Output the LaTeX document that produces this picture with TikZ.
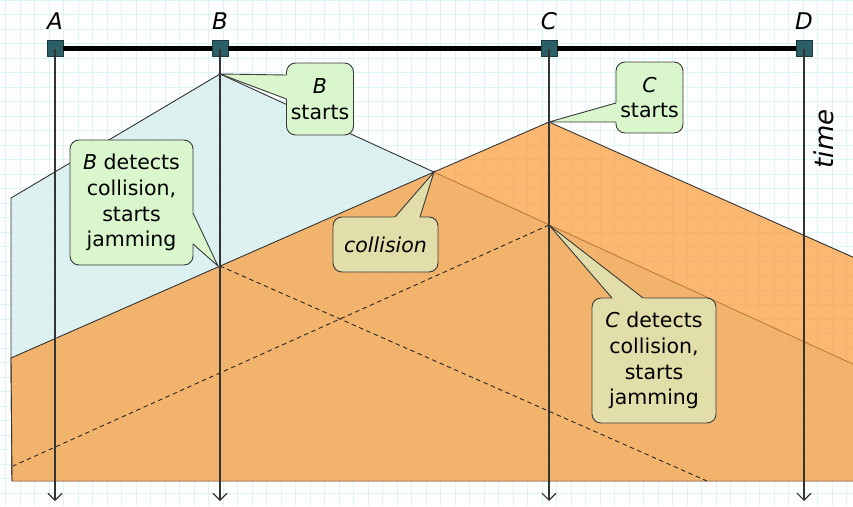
\documentclass[tikz,border=0pt]{standalone}
\usepackage{fontspec}
\setmainfont{DejaVu Sans}
\usetikzlibrary{calc,arrows.meta}
\definecolor{gridc}{HTML}{DCF4F7}
\definecolor{blueR}{HTML}{D6EEEE}
\definecolor{orangeR}{HTML}{FB9A36}
\definecolor{edgec}{HTML}{333333}
\definecolor{boxline}{HTML}{3A3A3A}
\definecolor{greenF}{HTML}{D9F6CD}
\definecolor{khakiF}{HTML}{E1DEA9}
\definecolor{stationF}{HTML}{2B6067}
\definecolor{stationD}{HTML}{173A3F}
\tikzset{
  cbox/.style={draw=boxline, line width=0.9pt, rounded corners=9pt, inner sep=0pt,
    align=center, font=\fontsize{20.5}{25.7}\selectfont},
  greenbox/.style={cbox, fill=greenF},
  khakibox/.style={cbox, fill=khakiF},
  station/.style={draw=stationD, fill=stationF, line width=0.8pt, minimum size=16pt, inner sep=0pt},
  stlabel/.style={font=\fontsize{23}{23}\selectfont\itshape, inner sep=0pt},
  timeline/.style={draw=edgec, line width=1.1pt, -{Straight Barb[length=7pt,width=14pt]}},
  jamline/.style={draw=black!85, line width=0.9pt, dash pattern=on 4.5pt off 3.5pt},
  sigedge/.style={draw=edgec, line width=0.9pt, line join=round},
}
\newcommand\pointer[4]{% fill, base1, tip, base2
  \fill[#1] ($(#2)!-1.5pt!(#3)$) -- (#3) -- ($(#4)!-1.5pt!(#3)$) -- cycle;
  \draw[boxline, line width=0.9pt, line join=miter] (#2) -- (#3) -- (#4);
}
\begin{document}
\begin{tikzpicture}[x=1pt,y=-1pt]
\useasboundingbox (0,0) rectangle (853,506);
\fill[white] (0,0) rectangle (853,506);
% grid
\foreach \i in {0,...,58} \draw[gridc, line width=0.6pt] ({5.7+14.5*\i},0) -- ({5.7+14.5*\i},506);
\foreach \j in {0,...,35} \draw[gridc, line width=0.6pt] (0,{0.2+14.5*\j}) -- (853,{0.2+14.5*\j});

% key points
\coordinate (Bs) at (220,74);
\coordinate (Cs) at (549,122);
\coordinate (X) at (434,172);
\coordinate (Bj) at (220,266);
\coordinate (Cj) at (549,225);
\coordinate (BL) at (11,198);
\coordinate (OL) at (11,358);
\coordinate (LB) at (12,481);
\coordinate (RB) at (856,481);
\coordinate (BR) at (856,365.5);
\coordinate (OR) at (856,258.5);
\coordinate (Bjend) at (707,481);
\coordinate (Cjend) at (13,466);

% B's signal (blue)
\fill[blueR, fill opacity=0.8] (Bs) -- (BR) -- (RB) -- (LB) -- (OL) -- (BL) -- cycle;
\draw[sigedge] (Bs) -- (BR) -- (RB) -- (LB) -- (OL) -- (BL) -- cycle;
% C's signal (orange)
\fill[orangeR, fill opacity=0.7] (Cs) -- (OR) -- (RB) -- (LB) -- (OL) -- cycle;
\draw[sigedge] (LB) -- (OL) -- (X) -- (Cs) -- (OR);
% jam signals
\draw[jamline] (Bj) -- (Bjend);
\draw[jamline] (Cj) -- (Cjend);

% bus and stations
\node[station] (A) at (55,48.5) {};
\node[station] (B) at (220,48.5) {};
\node[station] (C) at (549,48.5) {};
\node[station] (D) at (804,48.5) {};
\draw[black, line width=4.5pt] (A.east) -- (B.west) (B.east) -- (C.west) (C.east) -- (D.west);
\coordinate (Aend) at (55,501);
\coordinate (Bend) at (220,501);
\coordinate (Cend) at (549,501);
\coordinate (Dend) at (804,501);
\draw[timeline] (A.center) -- (Aend);
\draw[timeline] (B.center) -- (Bend);
\draw[timeline] (C.center) -- (Cend);
\draw[timeline] (D.center) -- (Dend);

\node[stlabel] (lA) at (55,21.5) {A};
\node[stlabel] (lB) at (220,21.5) {B};
\node[stlabel] (lC) at (549,21.5) {C};
\node[stlabel] (lD) at (804,21.5) {D};
\node[font=\fontsize{26}{26}\selectfont\itshape, inner sep=0pt, rotate=90] (time) at (824,139) {time};

% callouts
\node[greenbox, minimum width=67pt, minimum height=72pt] (bstart) at (320,99) {\textit{B}\\starts};
\coordinate (bs1) at (286.5,75);
\coordinate (bs2) at (286.5,99);
\pointer{greenF}{bs1}{Bs}{bs2}

\node[greenbox, minimum width=67pt, minimum height=71pt] (cstart) at (649.5,97.5) {\textit{C}\\starts};
\coordinate (cs1) at (616,103);
\coordinate (cs2) at (616,122);
\pointer{greenF}{cs1}{Cs}{cs2}

\node[greenbox, minimum width=123pt, minimum height=125pt] (bdet) at (131.5,202.5) {\textit{B} detects\\collision,\\starts\\jamming};
\coordinate (bd1) at (193,213);
\coordinate (bd2) at (193,244);
\coordinate (bdt) at (218,266);
\pointer{greenF}{bd1}{bdt}{bd2}

\node[khakibox, minimum width=105pt, minimum height=55pt] (coll) at (385.5,244.5) {\textit{collision}};
\coordinate (co1) at (395,217);
\coordinate (co2) at (420,217);
\pointer{khakiF}{co1}{X}{co2}

\node[khakibox, minimum width=124pt, minimum height=125pt] (cdet) at (654,360.5) {\textit{C} detects\\collision,\\starts\\jamming};
\coordinate (cd1) at (612,298);
\coordinate (cd2) at (643,298);
\pointer{khakiF}{cd1}{Cj}{cd2}
\end{tikzpicture}
\end{document}
